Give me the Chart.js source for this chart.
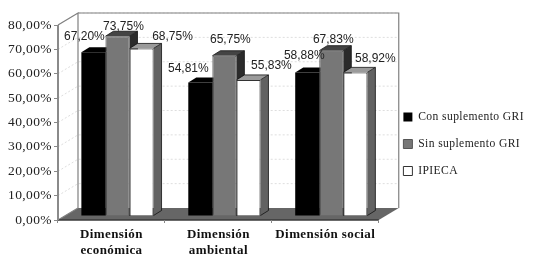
<!DOCTYPE html>
<html><head><meta charset="utf-8">
<script src="https://cdn.jsdelivr.net/npm/chart.js@4"></script>
<style>html,body{margin:0;padding:0;background:#fff}canvas{display:block;filter:blur(0.4px)}</style>
</head><body><canvas id="c" width="535" height="267"></canvas>
<script>
const categories = [["Dimensión","económica"],["Dimensión","ambiental"],"Dimensión social"];
const seriesNames = ["Con suplemento GRI","Sin suplemento GRI","IPIECA"];
const conSuplemento = [67.20,54.81,58.88];
const sinSuplemento = [73.75,65.75,67.83];
const ipieca = [68.75,55.83,58.92];
const yTickLabels = ["0,00%","10,00%","20,00%","30,00%","40,00%","50,00%","60,00%","70,00%","80,00%"];

// drawing constants, not data
const WALL = {dx:20,dy:-12};
const BAR_SHIFT = {dx:6,dy:-4};
const DEPTH = {dx:8,dy:-5};
const FACE = [{top:'#000',side:'#000'},{top:'#444',side:'#2b2b2b'},{top:'#9a9a9a',side:'#626262'}];
const LABEL_OFFSET = [
  [[-9,-16],[6,-10],[31,-12]],
  [[-12,-14],[6,-16],[23,-14]],
  [[-3,-17],[2,-11],[20,-14]]
];
const fmt = v => v.toFixed(2).replace('.',',')+'%';

const scene = {
  id:'scene',
  beforeDraw(ch){
    const g=ch.ctx, a=ch.chartArea, y=ch.scales.y;
    g.letterSpacing='0.4px';
    g.save();
    g.fillStyle='#fff';
    g.beginPath();g.moveTo(a.left,a.top);g.lineTo(a.left+WALL.dx,a.top+WALL.dy);g.lineTo(a.right+WALL.dx,a.top+WALL.dy);
    g.lineTo(a.right+WALL.dx,a.bottom+WALL.dy);g.lineTo(a.right,a.bottom);g.lineTo(a.left,a.bottom);g.closePath();g.fill();
    g.strokeStyle='#dedede';g.lineWidth=1;g.setLineDash([2,2]);
    y.ticks.forEach(t=>{
      if(t.value===0)return;
      const p=y.getPixelForValue(t.value);
      g.beginPath();g.moveTo(a.left,p);g.lineTo(a.left+WALL.dx,p+WALL.dy);g.lineTo(a.right+WALL.dx,p+WALL.dy);g.stroke();
    });
    g.setLineDash([]);
    g.fillStyle='#666';
    g.beginPath();g.moveTo(a.left,a.bottom);g.lineTo(a.left+WALL.dx,a.bottom+WALL.dy);g.lineTo(a.right+WALL.dx,a.bottom+WALL.dy);g.lineTo(a.right,a.bottom);g.closePath();g.fill();
    g.strokeStyle='#808080';g.lineWidth=1.2;
    g.beginPath();g.moveTo(a.left,a.bottom);g.lineTo(a.left+WALL.dx,a.bottom+WALL.dy);g.lineTo(a.left+WALL.dx,a.top+WALL.dy);g.lineTo(a.left,a.top);g.stroke();
    g.beginPath();g.moveTo(a.left+WALL.dx,a.top+WALL.dy);g.lineTo(a.right+WALL.dx,a.top+WALL.dy);g.lineTo(a.right+WALL.dx,a.bottom+WALL.dy);g.stroke();
    g.strokeStyle='#3a3a3a';g.lineWidth=1.5;
    g.beginPath();g.moveTo(a.left,a.bottom);g.lineTo(a.right,a.bottom);g.stroke();
    g.strokeStyle='#8a8a8a';g.lineWidth=2;
    g.beginPath();g.moveTo(a.left,a.top);g.lineTo(a.left,a.bottom);g.stroke();
    g.restore();
  },
  beforeDatasetsDraw(ch){
    const g=ch.ctx;
    g.save();
    g.translate(BAR_SHIFT.dx,BAR_SHIFT.dy);
    ch.data.datasets.forEach((ds,i)=>{
      ch.getDatasetMeta(i).data.forEach(b=>{
        const l=b.x-b.width/2, r=b.x+b.width/2, t=b.y, bot=b.base;
        g.fillStyle=FACE[i].side;
        g.beginPath();g.moveTo(r,t);g.lineTo(r+DEPTH.dx,t+DEPTH.dy);g.lineTo(r+DEPTH.dx,bot+DEPTH.dy);g.lineTo(r,bot);g.closePath();g.fill();
        g.fillStyle=FACE[i].top;
        g.beginPath();g.moveTo(l,t);g.lineTo(l+DEPTH.dx,t+DEPTH.dy);g.lineTo(r+DEPTH.dx,t+DEPTH.dy);g.lineTo(r,t);g.closePath();g.fill();
        g.strokeStyle='#111';g.lineWidth=0.8;
        if(i>0){g.beginPath();g.moveTo(l,t);g.lineTo(l+DEPTH.dx,t+DEPTH.dy);g.lineTo(r+DEPTH.dx,t+DEPTH.dy);g.lineTo(r+DEPTH.dx,bot+DEPTH.dy);g.lineTo(r,bot);g.moveTo(r+DEPTH.dx,t+DEPTH.dy);g.lineTo(r,t);g.stroke();}
      });
    });
  },
  afterDatasetsDraw(ch){
    const g=ch.ctx;
    g.restore();
    g.save();
    g.letterSpacing='0px';
    g.font='12px "Liberation Sans"';g.fillStyle='#222';g.textAlign='center';g.textBaseline='middle';
    ch.data.datasets.forEach((ds,i)=>{
      ch.getDatasetMeta(i).data.forEach((b,j)=>{
        const o=LABEL_OFFSET[j][i];
        g.fillText(fmt(ds.data[j]),b.x+BAR_SHIFT.dx+o[0],b.y+BAR_SHIFT.dy+o[1]);
      });
    });
    g.restore();
  },
  afterLayout(ch){
    const L=ch.legend;
    const h=L.bottom-L.top;
    L.left=388;L.right=535;
    L.top=144-h/2;L.bottom=144+h/2;
  }
};

new Chart(document.getElementById('c'),{
  type:'bar',
  data:{labels:categories,datasets:[
    {label:seriesNames[0],data:conSuplemento,backgroundColor:'#000',borderColor:'#000',borderWidth:0},
    {label:seriesNames[1],data:sinSuplemento,backgroundColor:'#777',borderColor:'#555',borderWidth:1},
    {label:seriesNames[2],data:ipieca,backgroundColor:'#fff',borderColor:'#333',borderWidth:1}
  ]},
  plugins:[scene],
  options:{
    responsive:false,animation:false,
    layout:{padding:{left:0,top:25,right:30,bottom:0}},
    datasets:{bar:{barPercentage:1,categoryPercentage:0.675,clip:false}},
    plugins:{
      tooltip:{enabled:false},
      legend:{position:'right',align:'center',
        labels:{boxWidth:9,boxHeight:9,padding:15.4,color:'#222',font:{family:'"Liberation Serif"',size:11.6}}}
    },
    scales:{
      x:{afterFit(s){s.height=47},
        grid:{drawOnChartArea:false,drawTicks:true,tickLength:3,color:'#888'},border:{display:false},
        ticks:{maxRotation:0,autoSkip:false,padding:4,color:'#111',font:{family:'"Liberation Serif"',size:13,weight:'bold',lineHeight:1.2}}},
      y:{min:0,max:80,afterFit(s){s.width=58},
        grid:{drawOnChartArea:false,drawTicks:true,tickLength:4,color:'#888'},border:{display:false},
        ticks:{stepSize:10,padding:2,color:'#222',font:{family:'"Liberation Serif"',size:13.5},callback:(v,i)=>yTickLabels[i]}}
    }
  }
});
</script></body></html>
